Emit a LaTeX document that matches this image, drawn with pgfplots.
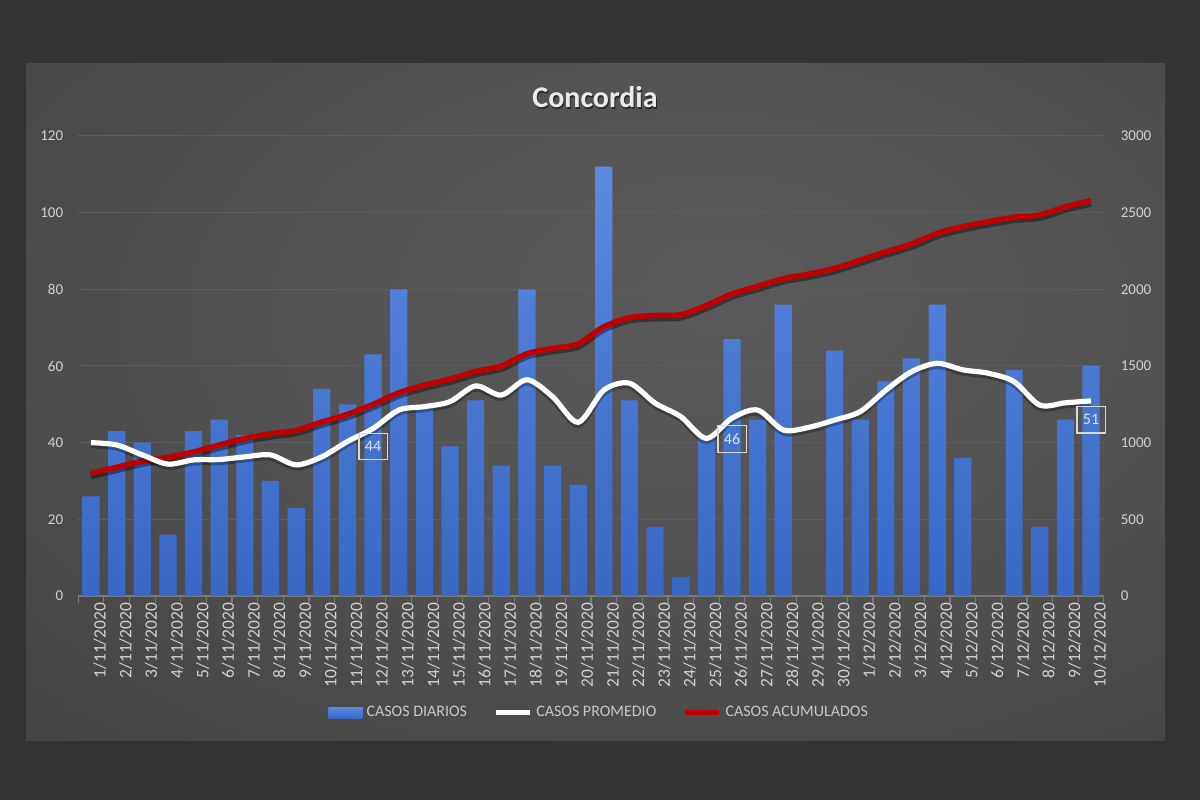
\documentclass[border=0pt]{standalone}
\usepackage{pgfplots}
\usepackage{pgfplotstable}
\pgfplotsset{compat=1.18}
\usepackage{fontspec}
\setmainfont{Carlito}

\definecolor{outerbg}{HTML}{333333}
\definecolor{bgc0}{HTML}{5A5A5A}
\definecolor{bgc1}{HTML}{525252}
\definecolor{bgc2}{HTML}{444444}
\definecolor{bgc3}{HTML}{2C2C2C}
\definecolor{bgc4}{HTML}{262626}
\definecolor{gridc}{HTML}{5E5E5E}
\definecolor{axisc}{HTML}{7A7A7A}
\definecolor{tickc}{HTML}{D2D2D2}
\definecolor{legc}{HTML}{C8C8C8}
\definecolor{bartop}{HTML}{5A8AE0}
\definecolor{barbot}{HTML}{3867C6}
\definecolor{redline}{HTML}{C00000}
\definecolor{labc}{HTML}{DCE3F0}

\pgfdeclareradialshading{chartbg}{\pgfpoint{6bp}{9bp}}{%
  color(0bp)=(bgc0); color(20bp)=(bgc1); color(40bp)=(bgc2);
  color(60bp)=(bgc3); color(80bp)=(bgc4)}

\newcommand\tickfont{\fontsize{7.5bp}{9bp}\selectfont}
\newcommand\xtickfont{\fontsize{8.7bp}{10bp}\selectfont}

% dia, casos diarios, promedio, acumulados
\pgfplotstableread{
dia diarios promedio acumulados
1  26  40.0  800
2  43  39.4  840
3  40  36.8  880
4  16  34.4  905
5  43  35.5  940
6  46  35.6  985
7  42  36.3  1028
8  30  36.8  1058
9  23  34.2  1080
10 54  36.3  1135
11 50  40.3  1185
12 63  43.7  1250
13 80  48.5  1325
14 49  49.4  1375
15 39  50.7  1415
16 51  54.8  1465
17 34  52.4  1500
18 80  56.4  1580
19 34  52.0  1615
20 29  45.3  1645
21 112 53.7  1756
22 51  55.5  1815
23 18  50.3  1830
24 5   46.8  1835
25 41  41.1  1895
26 67  46.4  1970
27 46  48.5  2020
28 76  43.3  2070
29 0   44.0  2100
30 64  45.9  2137
31 46  48.1  2190
32 56  53.7  2245
33 62  58.5  2296
34 76  60.7  2365
35 36  59.0  2409
36 0   58.1  2441
37 59  55.9  2470
38 18  49.8  2485
39 46  50.4  2538
40 60  50.9  2578
}\datos

\pgfplotsset{
  base/.style={
    at={(39.1bp,102bp)}, anchor=south west,
    scale only axis, width=512.8bp, height=230bp,
    xmin=0.5, xmax=40.5,
  },
}

\begin{document}
\begin{tikzpicture}[x=0.5bp,y=0.5bp]
\useasboundingbox (0,0) rectangle (1200,800);
\fill[outerbg] (0,0) rectangle (1200,800);
\shade[shading=chartbg] (26,60) rectangle (1165,736);
\node[font=\bfseries\fontsize{15bp}{18bp}\selectfont, text=black, opacity=0.5] at (596,701) {Concordia};
\node[font=\bfseries\fontsize{15bp}{18bp}\selectfont, text=white!92!black] at (595,703) {Concordia};

% barras + eje izquierdo
\begin{axis}[base,
    ymin=0, ymax=120,
    axis x line*=bottom, axis y line*=left,
    x axis line style={axisc, line width=0.6bp},
    y axis line style={draw=none},
    ytick={0,20,...,120},
    ymajorgrids, grid style={gridc, line width=0.5bp},
    xtick={1,...,40},
    xticklabels={1/11/2020,2/11/2020,3/11/2020,4/11/2020,5/11/2020,6/11/2020,7/11/2020,8/11/2020,9/11/2020,10/11/2020,11/11/2020,12/11/2020,13/11/2020,14/11/2020,15/11/2020,16/11/2020,17/11/2020,18/11/2020,19/11/2020,20/11/2020,21/11/2020,22/11/2020,23/11/2020,24/11/2020,25/11/2020,26/11/2020,27/11/2020,28/11/2020,29/11/2020,30/11/2020,1/12/2020,2/12/2020,3/12/2020,4/12/2020,5/12/2020,6/12/2020,7/12/2020,8/12/2020,9/12/2020,10/12/2020},
    minor xtick={0.5,1.5,...,40.5},
    tick align=outside,
    major tick length=0pt, minor tick length=3.5bp,
    minor tick style={axisc, line width=0.6bp},
    xticklabel style={rotate=90, anchor=east, font=\xtickfont, text=tickc, yshift=-4.5bp},
    yticklabel style={font=\tickfont, text=tickc, xshift=-4bp},
    /pgf/number format/assume math mode=true,
    legend columns=3,
    legend style={at={(0.509,-0.254)}, anchor=center, draw=none, fill=none,
      font=\fontsize{8bp}{9.6bp}\selectfont, text=legc,
      /tikz/every even column/.append style={column sep=11bp}},
  ]
  \addplot[ybar, bar width=8.6bp, draw=none, top color=bartop, bottom color=barbot,
    legend image code/.code={\fill[barbot!75!bartop] (0bp,-2.8bp) rectangle (17bp,2.8bp);}]
    table[x=dia, y=diarios] {\datos};
  \addlegendentry{CASOS DIARIOS}
  \addlegendimage{white, line width=2.6bp}
  \addlegendentry{CASOS PROMEDIO}
  \addlegendimage{redline, line width=2.6bp}
  \addlegendentry{CASOS ACUMULADOS}
\end{axis}

% acumulados, eje derecho
\begin{axis}[base,
    ymin=0, ymax=3000,
    axis y line*=right, axis x line=none,
    y axis line style={draw=none},
    ytick={0,500,...,3000},
    major tick length=0pt,
    yticklabel style={font=\tickfont, text=tickc, xshift=5bp},
    /pgf/number format/assume math mode=true,
    /pgf/number format/1000 sep={},
    scaled y ticks=false,
  ]
  \addplot[black, opacity=0.4, line width=3.4bp, smooth, forget plot,
    transform canvas={yshift=-1.3bp}] table[x=dia, y=acumulados] {\datos};
  \addplot[redline, line width=2.7bp, smooth] table[x=dia, y=acumulados] {\datos};
\end{axis}

% promedio + etiquetas
\begin{axis}[base, ymin=0, ymax=120, hide axis]
  \addplot[black, opacity=0.3, line width=3.2bp, smooth,
    transform canvas={yshift=-1.2bp}] table[x=dia, y=promedio] {\datos};
  \addplot[white, line width=2.6bp, smooth] table[x=dia, y=promedio] {\datos};
  \addplot[draw=none, nodes near coords, point meta=explicit symbolic,
    nodes near coords align={below},
    every node near coord/.append style={draw=white!85!black, line width=0.6bp,
      anchor=north, yshift=-2.8bp, font=\fontsize{8bp}{9.6bp}\selectfont, text=labc,
      inner xsep=3bp, inner ysep=4bp}]
    coordinates {(12,44) [44] (26,46) [46] (40,51) [51]};
\end{axis}
\end{tikzpicture}
\end{document}
